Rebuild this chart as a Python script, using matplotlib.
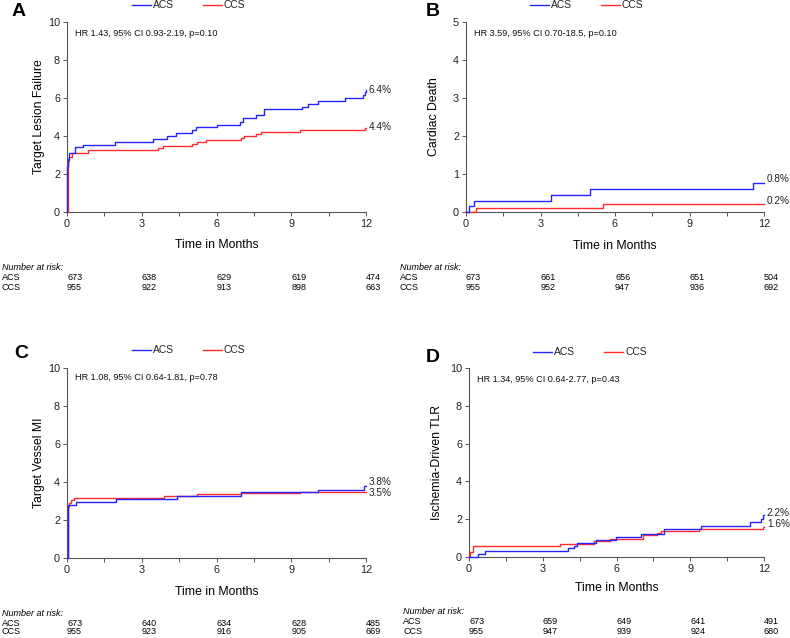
import numpy as np
import matplotlib.pyplot as plt
from matplotlib.transforms import blended_transform_factory

plt.rcParams['font.family'] = ['Liberation Sans', 'DejaVu Sans']

W, H = 790, 638

# time points shared by the risk tables
risk_times = [0, 3, 6, 9, 12]

# A: target lesion failure
tlf_acs_t = [0, 0.02, 0.05, 0.1, 0.32, 0.63, 1.93, 3.44, 4.0, 4.36, 5.0, 5.16, 6.0, 6.95, 7.08, 7.58, 7.92, 9.42, 9.68, 10.09, 11.16, 11.87, 11.95, 12]
tlf_acs_y = [0, 2.4, 2.8, 3.1, 3.4, 3.55, 3.7, 3.85, 4.0, 4.15, 4.3, 4.45, 4.6, 4.75, 4.95, 5.1, 5.4, 5.55, 5.7, 5.85, 6.0, 6.15, 6.3, 6.4]
tlf_ccs_t = [0, 0.03, 0.1, 0.2, 0.83, 3.67, 3.87, 5.0, 5.2, 5.56, 7.0, 7.1, 7.58, 7.8, 9.35, 11.94, 12]
tlf_ccs_y = [0, 2.7, 2.9, 3.1, 3.25, 3.35, 3.45, 3.6, 3.7, 3.8, 3.9, 4.0, 4.1, 4.2, 4.3, 4.4, 4.4]
tlf_risk_acs = [673, 638, 629, 619, 474]
tlf_risk_ccs = [955, 922, 913, 898, 663]

# B: cardiac death
cd_acs_t = [0, 0.12, 0.32, 3.44, 4.99, 11.55, 12]
cd_acs_y = [0, 0.15, 0.3, 0.45, 0.6, 0.77, 0.77]
cd_ccs_t = [0, 0.39, 5.52, 12]
cd_ccs_y = [0, 0.1, 0.2, 0.2]
cd_risk_acs = [673, 661, 656, 651, 504]
cd_risk_ccs = [955, 952, 947, 936, 692]

# C: target vessel MI
tvmi_acs_t = [0, 0.03, 0.05, 0.36, 1.97, 4.4, 6.97, 10.08, 11.9, 12]
tvmi_acs_y = [0, 2.4, 2.8, 2.95, 3.1, 3.28, 3.45, 3.58, 3.8, 3.8]
tvmi_ccs_t = [0, 0.03, 0.08, 0.15, 0.27, 3.9, 5.2, 6.97, 9.35, 12]
tvmi_ccs_y = [0, 2.7, 2.9, 3.05, 3.15, 3.25, 3.35, 3.4, 3.47, 3.5]
tvmi_risk_acs = [673, 640, 634, 628, 485]
tvmi_risk_ccs = [955, 923, 916, 905, 669]

# D: ischemia-driven TLR
tlr_acs_t = [0, 0.37, 0.64, 4.03, 4.26, 4.41, 5.18, 5.99, 6.99, 7.94, 9.43, 11.42, 11.86, 11.97, 12]
tlr_acs_y = [0, 0.15, 0.3, 0.45, 0.6, 0.75, 0.9, 1.05, 1.2, 1.5, 1.65, 1.85, 2.0, 2.2, 2.2]
tlr_ccs_t = [0, 0.03, 0.15, 3.72, 5.07, 5.72, 7.06, 7.63, 7.83, 9.35, 11.97, 12]
tlr_ccs_y = [0, 0.25, 0.6, 0.7, 0.85, 0.95, 1.15, 1.25, 1.4, 1.47, 1.6, 1.6]
tlr_risk_acs = [673, 659, 649, 641, 491]
tlr_risk_ccs = [955, 947, 939, 924, 680]

BLUE = '#2424ff'
RED = '#ff2a2a'
GREY = '#555555'
SMALL = 6.5

fig = plt.figure(figsize=(W / 100, H / 100), dpi=100)


def fx(px):
    return px / W


def fy(py):
    return 1 - py / H


panels = [
    dict(letter='A', box=(67, 22, 366, 212), ymax=10, ystep=2, ylabel='Target Lesion Failure',
         hr='HR 1.43, 95% CI 0.93-2.19, p=0.10',
         acs=(tlf_acs_t, tlf_acs_y), ccs=(tlf_ccs_t, tlf_ccs_y),
         risk=(tlf_risk_acs, tlf_risk_ccs), end=('6.4%', '4.4%'), dy=(0, 1),
         leg_y=5, leg_x=132, let=(12, 12), hr_xy=(75, 33), ylab_x=39, xlab_y=245,
         risk_x=2, risk_y=268),
    dict(letter='B', box=(466, 22, 764, 212), ymax=5, ystep=1, ylabel='Cardiac Death',
         hr='HR 3.59, 95% CI 0.70-18.5, p=0.10',
         acs=(cd_acs_t, cd_acs_y), ccs=(cd_ccs_t, cd_ccs_y),
         risk=(cd_risk_acs, cd_risk_ccs), end=('0.8%', '0.2%'), dy=(4, 3),
         leg_y=5, leg_x=530, let=(426, 12), hr_xy=(474, 33), ylab_x=434, xlab_y=246,
         risk_x=400, risk_y=268),
    dict(letter='C', box=(67, 368, 366, 558), ymax=10, ystep=2, ylabel='Target Vessel MI',
         hr='HR 1.08, 95% CI 0.64-1.81, p=0.78',
         acs=(tvmi_acs_t, tvmi_acs_y), ccs=(tvmi_ccs_t, tvmi_ccs_y),
         risk=(tvmi_risk_acs, tvmi_risk_ccs), end=('3.8%', '3.5%'), dy=(4, -1.5),
         leg_y=350, leg_x=132, let=(14, 354), hr_xy=(75, 378), ylab_x=39, xlab_y=592,
         risk_x=2, risk_y=613),
    dict(letter='D', box=(469, 368, 764, 557), ymax=10, ystep=2, ylabel='Ischemia-Driven TLR',
         hr='HR 1.34, 95% CI 0.64-2.77, p=0.43',
         acs=(tlr_acs_t, tlr_acs_y), ccs=(tlr_ccs_t, tlr_ccs_y),
         risk=(tlr_risk_acs, tlr_risk_ccs), end=('2.2%', '1.6%'), dy=(2, 3),
         leg_y=352, leg_x=533, let=(426, 358), hr_xy=(477, 379), ylab_x=437, xlab_y=588,
         risk_x=403, risk_y=612),
]

for p in panels:
    x0, y0, x1, y1 = p['box']
    ax = fig.add_axes([fx(x0), fy(y1), (x1 - x0) / W, (y1 - y0) / H])
    ax.step(p['ccs'][0], p['ccs'][1], where='post', color=RED, lw=1.0, clip_on=False, zorder=3)
    ax.step(p['acs'][0], p['acs'][1], where='post', color=BLUE, lw=1.0, clip_on=False, zorder=4)
    ax.set_xlim(0, 12)
    ax.set_ylim(0, p['ymax'])
    ax.set_xticks(risk_times)
    ax.set_xticks([1.5, 4.5, 7.5, 10.5], minor=True)
    ax.set_yticks(np.arange(0, p['ymax'] + 0.1, p['ystep']))
    for s in ['top', 'right']:
        ax.spines[s].set_visible(False)
    for s in ['left', 'bottom']:
        ax.spines[s].set_color(GREY)
        ax.spines[s].set_linewidth(0.8)
    ax.tick_params(which='both', direction='out', length=3, width=0.7, color=GREY,
                   labelsize=7.8, pad=2, labelcolor='#222222')
    ax.patch.set_alpha(0)

    # end-of-curve percentages
    for lab, (tt, yy), off in zip(p['end'], [p['acs'], p['ccs']], p['dy']):
        ax.annotate(lab, (12, yy[-1]), xytext=(2, off * 0.72), textcoords='offset points',
                    fontsize=7.2, va='center', ha='left', color='#222222', annotation_clip=False)

    fig.text(fx(p['hr_xy'][0]), fy(p['hr_xy'][1]), p['hr'], fontsize=6.6, va='center', color='#111111')
    fig.text(fx(p['let'][0]), fy(p['let'][1]), p['letter'], fontsize=14, fontweight='bold', va='center')
    fig.text(fx(p['ylab_x']), fy((y0 + y1) / 2), p['ylabel'], rotation=90, fontsize=8.8,
             va='center', ha='center')
    fig.text(fx((x0 + x1) / 2), fy(p['xlab_y']), 'Time in Months', fontsize=8.8,
             va='center', ha='center')

    # legend drawn as short lines with labels
    lx, ly = p['leg_x'], p['leg_y']
    for i, (name, col) in enumerate([('ACS', BLUE), ('CCS', RED)]):
        sx = lx + i * 71
        fig.add_artist(plt.Line2D([fx(sx), fx(sx + 19)], [fy(ly), fy(ly)], color=col, lw=1.0))
        fig.text(fx(sx + 21), fy(ly), name, fontsize=7.4, va='center', color='#222222')

    # number at risk table
    fig.text(fx(p['risk_x']), fy(p['risk_y']), 'Number at risk:', fontsize=SMALL, style='italic', va='center')
    trans = blended_transform_factory(ax.transData, fig.transFigure)
    for j, (name, vals) in enumerate(zip(['ACS', 'CCS'], p['risk'])):
        yrow = fy(p['risk_y'] + 10 * (j + 1) - j)
        fig.text(fx(p['risk_x']), yrow, name, fontsize=SMALL, va='center')
        for t, v in zip(risk_times, vals):
            ax.text(t, yrow, str(v), transform=trans, fontsize=SMALL, va='center', ha='left')

fig.savefig('out.png', dpi=100)
